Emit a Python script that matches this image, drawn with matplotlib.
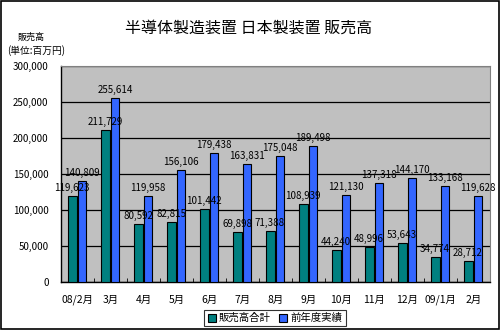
import numpy as np
import matplotlib.pyplot as plt
from matplotlib.patches import Rectangle

plt.rcParams['font.family'] = ['Noto Sans CJK JP', 'DejaVu Sans']

months = ['08/2月', '3月', '4月', '5月', '6月', '7月', '8月', '9月',
          '10月', '11月', '12月', '09/1月', '2月']
sales = [119623, 211729, 80592, 82815, 101442, 69898, 71388, 108939,
         44240, 48996, 53643, 34774, 28712]
prev_year = [140809, 255614, 119958, 156106, 179438, 163831, 175048, 189498,
             121130, 137318, 144170, 133168, 119628]
yticks = [0, 50000, 100000, 150000, 200000, 250000, 300000]

fig = plt.figure(figsize=(5, 3.3), dpi=100)
ax = fig.add_axes([0.122, 0.1455, 0.858, 0.6545])
ax.set_facecolor('#c0c0c0')

x = np.arange(len(months))
w = 0.27
b1 = ax.bar(x + 0.335, sales, w, color='#008080', edgecolor='black', linewidth=0.8,
            label='販売高合計', zorder=3)
b2 = ax.bar(x + 0.635, prev_year, w, color='#3366ff', edgecolor='black', linewidth=0.8,
            label='前年度実績', zorder=3)

for bars, vals in ((b1, sales), (b2, prev_year)):
    for r, v in zip(bars, vals):
        ax.text(r.get_x() + r.get_width() / 2, v + 4000, f'{v:,}',
                ha='center', va='bottom', fontsize=7, zorder=4)

ax.set_xlim(0, len(months))
ax.set_ylim(0, 300000)
ax.set_yticks(yticks)
ax.set_yticklabels([f'{v:,}' for v in yticks], fontsize=7)
ax.set_xticks(x + 0.5)
ax.set_xticklabels(months, fontsize=7.5)
ax.set_xticks(np.arange(len(months) + 1), minor=True)
ax.tick_params(axis='x', which='major', length=0, pad=9)
ax.tick_params(axis='x', which='minor', direction='in', length=3, color='black')
ax.tick_params(axis='y', length=0, pad=9)
ax.grid(axis='y', color='black', linewidth=0.9, zorder=1)
ax.set_axisbelow(True)

for s in ('top', 'right'):
    ax.spines[s].set_color('#808080')
for s in ('left', 'bottom'):
    ax.spines[s].set_color('black')
    ax.spines[s].set_linewidth(1.0)

fig.text(0.497, 0.915, '半導体製造装置 日本製装置 販売高', ha='center', va='center',
         fontsize=11.5)
fig.text(0.062, 0.887, '販売高', ha='center', va='center', fontsize=6.5)
fig.text(0.073, 0.848, '(単位:百万円)', ha='center', va='center', fontsize=7)

leg = fig.legend(handles=[b1, b2], loc='center', bbox_to_anchor=(0.55, 0.036),
                 ncol=2, fontsize=7.5, frameon=True, fancybox=False,
                 handlelength=0.8, handleheight=0.8, handletextpad=0.3,
                 columnspacing=0.8, borderpad=0.3)
leg.get_frame().set_edgecolor('black')
leg.get_frame().set_linewidth(0.8)

# outer frame around the whole figure
fig.patches.append(Rectangle((0.002, 0.003), 0.996, 0.994, transform=fig.transFigure,
                             fill=False, edgecolor='black', linewidth=1.2))

fig.savefig('out.png', dpi=100)
